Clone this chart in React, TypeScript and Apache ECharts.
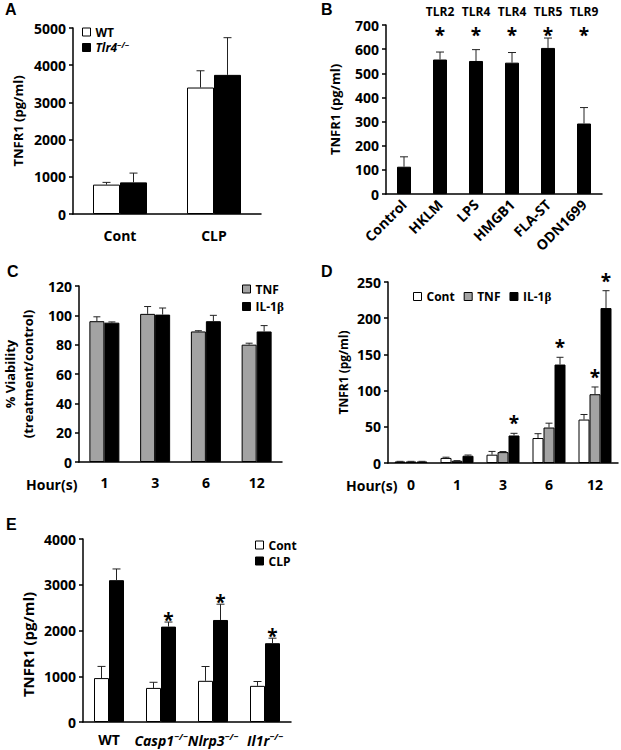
import React, { useEffect, useRef } from 'react';
import * as echarts from 'echarts';

// ---------- Panel A ----------
const aCategories = ['Cont', 'CLP'];
const aWT = [790, 3400];
const aWTErr = [60, 450];
const aTlr4 = [850, 3740];
const aTlr4Err = [250, 1000];

// ---------- Panel B ----------
const bCategories = ['Control', 'HKLM', 'LPS', 'HMGB1', 'FLA-ST', 'ODN1699'];
const bReceptors = ['', 'TLR2', 'TLR4', 'TLR4', 'TLR5', 'TLR9'];
const bValues = [113, 557, 551, 544, 605, 292];
const bErr = [41, 31, 47, 42, 41, 66];

// ---------- Panel C ----------
const cHours = ['1', '3', '6', '12'];
const cTNF = [96, 101, 89, 80];
const cTNFErr = [3, 5, 0.5, 1];
const cIL1b = [95, 100.5, 96, 89];
const cIL1bErr = [0.5, 4.5, 4, 4];

// ---------- Panel D ----------
const dHours = ['0', '1', '3', '6', '12'];
const dCont = [2, 7, 11.5, 34.5, 60];
const dContErr = [0.3, 1, 4.5, 6, 7];
const dTNF = [2, 3, 15, 49, 95];
const dTNFErr = [0.3, 0.3, 0.8, 6, 10];
const dIL1b = [2, 10, 38, 136, 214];
const dIL1bErr = [0.3, 1, 3, 10, 24];
const dStarTNF = [0, 0, 0, 0, 1];
const dStarIL1b = [0, 0, 1, 1, 1];

// ---------- Panel E ----------
const eGenotypes = ['WT', 'Casp1', 'Nlrp3', 'Il1r'];
const eCont = [960, 745, 900, 790];
const eContErr = [255, 123, 313, 95];
const eCLP = [3100, 2085, 2230, 1722];
const eCLPErr = [245, 100, 345, 110];
const eStarCLP = [0, 1, 1, 1];

const FONT = 'Open Sans';
const GRAY = '#a3a3a3';
const STAR_SIZE = 19;

const axisLineStyle = { color: '#000', width: 1.5 };

function xCat(gridIndex: number, data: string[], extra: any = {}) {
  return {
    type: 'category',
    gridIndex,
    data,
    axisLine: { lineStyle: axisLineStyle },
    axisTick: { length: 5, lineStyle: axisLineStyle },
    axisLabel: {
      color: '#000',
      fontWeight: 'bold',
      fontSize: 14,
      fontFamily: FONT,
      margin: 12,
      interval: 0,
      ...(extra.axisLabel || {}),
    },
    splitLine: { show: false },
    ...Object.fromEntries(Object.entries(extra).filter(([k]) => k !== 'axisLabel')),
  };
}

function yVal(gridIndex: number, max: number, interval: number, name: string, nameGap: number, nameExtra: any = {}) {
  return {
    type: 'value',
    gridIndex,
    min: 0,
    max,
    interval,
    name,
    nameLocation: 'middle',
    nameGap,
    nameTextStyle: {
      color: '#000',
      fontWeight: 'bold',
      fontSize: 13,
      fontFamily: FONT,
      ...nameExtra,
    },
    axisLine: { show: true, lineStyle: axisLineStyle },
    axisTick: { show: true, length: 4, lineStyle: axisLineStyle },
    axisLabel: {
      color: '#000',
      fontWeight: 'bold',
      fontSize: 14,
      fontFamily: FONT,
      margin: 7,
      formatter: (v: number) => String(v),
    },
    splitLine: { show: false },
  };
}

function bar(name: string, xi: number, yi: number, data: number[], color: string, width: number) {
  return {
    type: 'bar',
    name,
    xAxisIndex: xi,
    yAxisIndex: yi,
    data,
    barWidth: width,
    barGap: '0%',
    itemStyle: { color, borderColor: '#000', borderWidth: 1 },
    silent: true,
  };
}

function errSeries(
  xi: number,
  yi: number,
  bw: number,
  cap: number,
  groups: { vals: number[]; errs: number[]; stars?: number[] }[],
  starDy: number
) {
  const n = groups.length;
  const data: number[][] = [];
  groups.forEach((g, gi) =>
    g.vals.forEach((v, i) => data.push([i, v, g.errs[i], gi, g.stars ? g.stars[i] : 0]))
  );
  return {
    type: 'custom',
    xAxisIndex: xi,
    yAxisIndex: yi,
    silent: true,
    z: 5,
    encode: { x: 0, y: 1 },
    data,
    renderItem: (_params: any, api: any) => {
      const cat = api.value(0);
      const v = api.value(1);
      const e = api.value(2);
      const gi = api.value(3);
      const s = api.value(4);
      const p0 = api.coord([cat, v]);
      const p1 = api.coord([cat, v + e]);
      const x = p0[0] + (gi - (n - 1) / 2) * bw;
      const children: any[] = [
        { type: 'line', shape: { x1: x, y1: p0[1], x2: x, y2: p1[1] }, style: { stroke: '#222', lineWidth: 1 } },
        { type: 'line', shape: { x1: x - cap / 2, y1: p1[1], x2: x + cap / 2, y2: p1[1] }, style: { stroke: '#222', lineWidth: 1 } },
      ];
      if (s) {
        children.push({
          type: 'text',
          x,
          y: p1[1] - starDy,
          style: {
            text: '*',
            fontSize: STAR_SIZE,
            fontWeight: 'bold',
            fontFamily: FONT,
            fill: '#000',
            align: 'center',
            verticalAlign: 'middle',
          },
        });
      }
      return { type: 'group', children };
    },
  };
}

const legendText = {
  color: '#000',
  fontWeight: 'bold',
  fontSize: 12,
  fontFamily: FONT,
  rich: {
    i: { fontStyle: 'italic', fontWeight: 'bold', fontSize: 12, fontFamily: FONT, color: '#000' },
    s: { fontStyle: 'italic', fontWeight: 'bold', fontSize: 8, fontFamily: FONT, color: '#000', padding: [0, 0, 7, 0] },
    n: { fontWeight: 'bold', fontSize: 12, fontFamily: FONT, color: '#000' },
    g: { fontSize: 13, fontFamily: 'Liberation Serif', color: '#000' },
  },
};

function legendFormatter(name: string) {
  if (name === 'Tlr4') return '{i|Tlr4}{s|−/−}';
  if (name === 'IL-1β') return '{n|IL-1}{g|β}';
  return name;
}

function legend(names: string[], left: number, top: number, orient: string, itemGap: number) {
  return {
    data: names,
    left,
    top,
    orient,
    itemGap,
    itemWidth: 8,
    itemHeight: 8,
    icon: 'rect',
    selectedMode: false,
    padding: 0,
    itemStyle: { borderColor: '#000', borderWidth: 1 },
    textStyle: legendText,
    formatter: legendFormatter,
  };
}

function letter(t: string, x: number, y: number) {
  return {
    type: 'text',
    x,
    y,
    style: { text: t, fontSize: 16, fontWeight: 'bold', fontFamily: 'Liberation Sans', fill: '#000' },
  };
}

function plainText(t: string, x: number, y: number) {
  return {
    type: 'text',
    x,
    y,
    style: { text: t, fontSize: 14, fontWeight: 'bold', fontFamily: FONT, fill: '#000', verticalAlign: 'middle' },
  };
}

export default function App() {
  const ref = useRef<HTMLDivElement>(null);

  useEffect(() => {
    if (!ref.current) return;
    const chart = echarts.init(ref.current, undefined, { renderer: 'svg' });

    const option: any = {
      animation: false,
      backgroundColor: '#fff',
      grid: [
        { left: 73, top: 28, width: 188, height: 186 },
        { left: 386, top: 25, width: 216, height: 169 },
        { left: 76, top: 286, width: 206, height: 176 },
        { left: 388, top: 282, width: 230, height: 181 },
        { left: 83, top: 539, width: 208, height: 183 },
      ],
      xAxis: [
        xCat(0, aCategories, { axisLabel: { margin: 14 } }),
        xCat(1, bCategories, { axisLabel: { rotate: 45, margin: 8 } }),
        {
          type: 'category',
          gridIndex: 1,
          position: 'top',
          data: bCategories,
          axisLine: { show: false },
          axisTick: { show: false },
          splitLine: { show: false },
          axisLabel: {
            interval: 0,
            margin: -27,
            formatter: (_v: string, i: number) => (bReceptors[i] ? `{t|${bReceptors[i]}}\n{s|*}` : ''),
            rich: {
              t: { fontSize: 12, fontWeight: 'bold', fontFamily: FONT, color: '#000', lineHeight: 14 },
              s: { fontSize: STAR_SIZE, fontWeight: 'bold', fontFamily: FONT, color: '#000', lineHeight: 34 },
            },
          },
        },
        xCat(2, cHours, { axisLabel: { margin: 13 } }),
        xCat(3, dHours, { axisLabel: { margin: 14 } }),
        xCat(4, eGenotypes, {
          axisLabel: {
            margin: 10,
            formatter: (v: string) => (v === 'WT' ? v : `{i|${v}}{s|−/−}`),
            rich: {
              i: { fontStyle: 'italic', fontWeight: 'bold', fontSize: 14, fontFamily: FONT, color: '#000' },
              s: { fontStyle: 'italic', fontWeight: 'bold', fontSize: 9, fontFamily: FONT, color: '#000', padding: [0, 0, 8, 0] },
            },
          },
        }),
      ],
      yAxis: [
        yVal(0, 5000, 1000, 'TNFR1 (pg/ml)', 49),
        yVal(1, 700, 100, 'TNFR1 (pg/ml)', 45),
        yVal(2, 120, 20, '% Viability\n(treatment/control)', 42, { lineHeight: 18 }),
        yVal(3, 250, 50, 'TNFR1 (pg/ml)', 39, { fontSize: 12 }),
        yVal(4, 4000, 1000, 'TNFR1 (pg/ml)', 48, { fontSize: 15, padding: [0, 28, 0, 0] }),
      ],
      legend: [
        legend(['WT', 'Tlr4'], 82, 26, 'vertical', 2),
        legend(['TNF', 'IL-1β'], 242, 283, 'vertical', 5),
        legend(['Cont', 'TNF', 'IL-1β'], 413, 290, 'horizontal', 9),
        legend(['Cont', 'CLP'], 255, 539, 'vertical', 4),
      ],
      graphic: [
        letter('A', 5, 1),
        letter('B', 321, 1),
        letter('C', 7, 263),
        letter('D', 321, 263),
        letter('E', 6, 516),
        plainText('Hour(s)', 26, 484),
        plainText('Hour(s)', 346, 485),
      ],
      series: [
        // A
        bar('WT', 0, 0, aWT, '#fff', 27),
        bar('Tlr4', 0, 0, aTlr4, '#000', 27),
        errSeries(0, 0, 27, 8, [
          { vals: aWT, errs: aWTErr },
          { vals: aTlr4, errs: aTlr4Err },
        ], 10),
        // B
        bar('B', 1, 1, bValues, '#000', 14),
        errSeries(1, 1, 14, 8, [{ vals: bValues, errs: bErr }], 10),
        // C
        bar('TNF', 3, 2, cTNF, GRAY, 15),
        bar('IL-1β', 3, 2, cIL1b, '#000', 15),
        errSeries(3, 2, 15, 7, [
          { vals: cTNF, errs: cTNFErr },
          { vals: cIL1b, errs: cIL1bErr },
        ], 10),
        // D
        bar('Cont', 4, 3, dCont, '#fff', 11),
        bar('TNF', 4, 3, dTNF, GRAY, 11),
        bar('IL-1β', 4, 3, dIL1b, '#000', 11),
        errSeries(4, 3, 11, 7, [
          { vals: dCont, errs: dContErr },
          { vals: dTNF, errs: dTNFErr, stars: dStarTNF },
          { vals: dIL1b, errs: dIL1bErr, stars: dStarIL1b },
        ], 10),
        // E
        bar('Cont', 5, 4, eCont, '#fff', 15),
        bar('CLP', 5, 4, eCLP, '#000', 15),
        errSeries(5, 4, 15, 8, [
          { vals: eCont, errs: eContErr },
          { vals: eCLP, errs: eCLPErr, stars: eStarCLP },
        ], 2),
      ],
    };

    chart.setOption(option);
    return () => chart.dispose();
  }, []);

  return (
    <div
      ref={ref}
      style={{ position: 'absolute', left: 0, top: 0, width: 621, height: 750, background: '#fff' }}
    />
  );
}
